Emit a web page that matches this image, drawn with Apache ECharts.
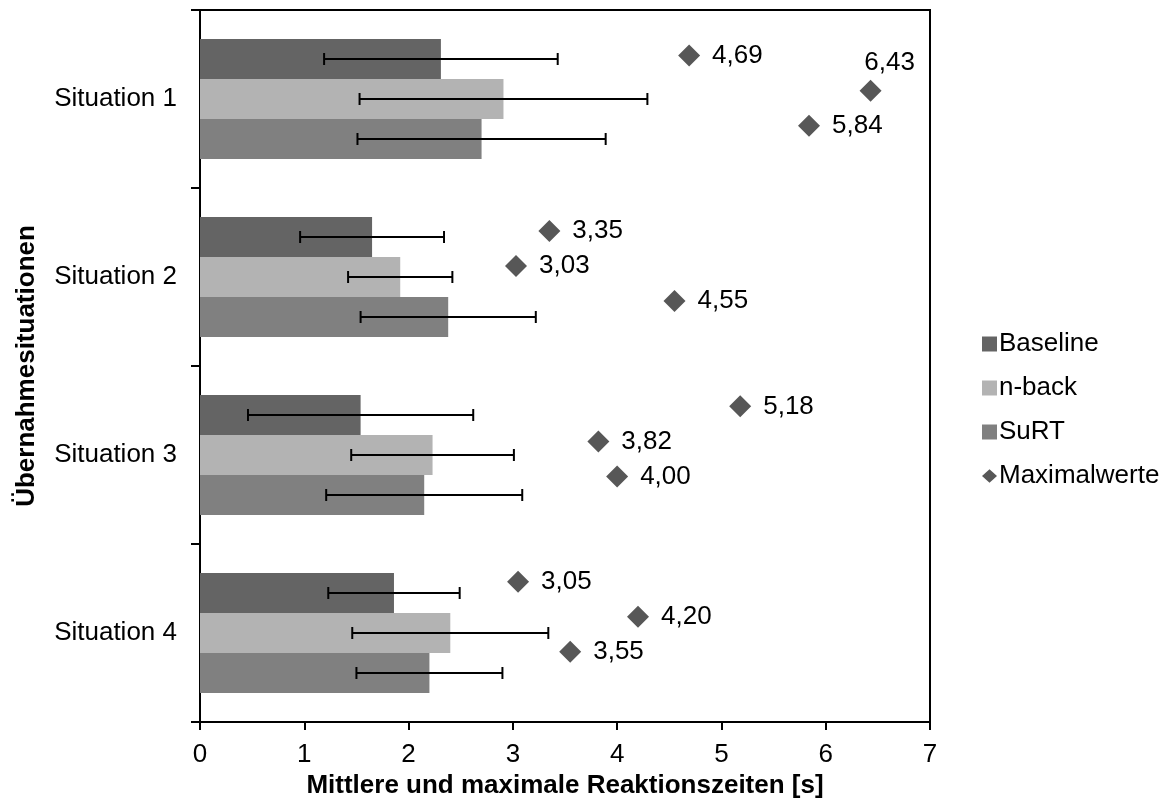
<!DOCTYPE html>
<html>
<head>
<meta charset="utf-8">
<script src="https://cdn.jsdelivr.net/npm/echarts@6/dist/echarts.min.js"></script>
<style>html,body{margin:0;padding:0;background:#fff}#c{width:1167px;height:807px}</style>
</head>
<body>
<div id="c"></div>
<script>
// ---- data ----
const categories = ['Situation 1', 'Situation 2', 'Situation 3', 'Situation 4'];
const seriesNames = ['Baseline', 'n-back', 'SuRT'];
const baselineMean = [2.31, 1.65, 1.54, 1.86];
const baselineSD   = [1.12, 0.69, 1.08, 0.63];
const nbackMean    = [2.91, 1.92, 2.23, 2.40];
const nbackSD      = [1.38, 0.50, 0.78, 0.94];
const surtMean     = [2.70, 2.38, 2.15, 2.20];
const surtSD       = [1.19, 0.84, 0.94, 0.70];
// Maximalwerte, per situation: Baseline, n-back, SuRT
const maxValues = [4.69, 6.43, 5.84, 3.35, 3.03, 4.55, 5.18, 3.82, 4.00, 3.05, 4.20, 3.55];
// secondary (hidden) axis values of the Maximalwerte points
const maxRows   = [1, 2, 3, 6, 7, 8, 11, 12, 13, 16, 17, 18];
const xTicks = [0, 1, 2, 3, 4, 5, 6, 7];
const xTitle = 'Mittlere und maximale Reaktionszeiten [s]';
const yTitle = 'Übernahmesituationen';

// ---- styling ----
const FONT = "'Liberation Sans', Arial, sans-serif";
const colors = ['#646464', '#b3b3b3', '#808080'];
const diamondColor = '#575757';
const CAT_GAP = 0.326;

const means = [baselineMean, nbackMean, surtMean];
const sds = [baselineSD, nbackSD, surtSD];

const barSeries = seriesNames.map((n, k) => ({
  name: n, type: 'bar', yAxisIndex: 0,
  data: means[k],
  barGap: '0%', barCategoryGap: (CAT_GAP * 100) + '%',
  itemStyle: { color: colors[k] },
  z: 2
}));

const errSeries = seriesNames.map((n, k) => ({
  name: n + '_err', type: 'custom', yAxisIndex: 0,
  data: means[k].map((m, i) => [m - sds[k][i], m + sds[k][i], i]),
  encode: { x: [0, 1], y: 2 },
  z: 5,
  silent: true,
  renderItem: function (params, api) {
    const cat = api.value(2);
    const band = api.size([0, 1])[1];
    const bw = band * (1 - CAT_GAP) / 3;
    const p1 = api.coord([api.value(0), cat]);
    const p2 = api.coord([api.value(1), cat]);
    const y = p1[1] + (k - 1) * bw;
    const cap = 6;
    const st = { stroke: '#000', lineWidth: 2 };
    return {
      type: 'group',
      children: [
        { type: 'line', shape: { x1: p1[0], y1: y, x2: p2[0], y2: y }, style: st },
        { type: 'line', shape: { x1: p1[0], y1: y - cap, x2: p1[0], y2: y + cap }, style: st },
        { type: 'line', shape: { x1: p2[0], y1: y - cap, x2: p2[0], y2: y + cap }, style: st }
      ]
    };
  }
}));

const scatterData = maxValues.map((v, i) => {
  const d = { value: [v, maxRows[i]] };
  if (v > 6.2) {
    d.label = { position: 'top', distance: 4, offset: [19, 0] };
  }
  return d;
});

const option = {
  animation: false,
  textStyle: { fontFamily: FONT },
  grid: {
    left: 200, right: 237, top: 10, bottom: 85,
    show: true, borderColor: '#000', borderWidth: 2
  },
  legend: {
    orient: 'vertical', left: 977, top: 326,
    itemWidth: 15, itemHeight: 15, itemGap: 18,
    textStyle: { fontFamily: FONT, fontSize: 26, color: '#000', padding: [0, 0, 0, -3] },
    data: [
      { name: 'Baseline', icon: 'rect' },
      { name: 'n-back', icon: 'rect' },
      { name: 'SuRT', icon: 'rect' },
      { name: 'Maximalwerte', icon: 'path://M9,0L18,8L9,16L0,8Z', itemStyle: { color: diamondColor, opacity: 1 } }
    ]
  },
  xAxis: {
    type: 'value', min: xTicks[0], max: xTicks[xTicks.length - 1], interval: 1,
    name: xTitle, nameLocation: 'middle', nameGap: 45,
    nameTextStyle: { fontFamily: FONT, fontSize: 26, fontWeight: 'bold', color: '#000' },
    axisLine: { show: true, onZero: false, lineStyle: { color: '#000', width: 2 } },
    axisTick: { show: true, length: 8, lineStyle: { color: '#000', width: 2 } },
    axisLabel: { fontFamily: FONT, fontSize: 26, color: '#000', margin: 20 },
    splitLine: { show: false }
  },
  yAxis: [
    {
      type: 'category', data: categories, inverse: true,
      name: yTitle, nameLocation: 'middle', nameGap: 160, nameRotate: 90,
      nameTextStyle: { fontFamily: FONT, fontSize: 26, fontWeight: 'bold', color: '#000' },
      axisLine: { show: true, onZero: false, lineStyle: { color: '#000', width: 2 } },
      axisTick: { show: true, length: 9, lineStyle: { color: '#000', width: 2 } },
      axisLabel: { fontFamily: FONT, fontSize: 26, color: '#000', margin: 23 }
    },
    {
      type: 'value', inverse: true, min: -0.3, max: 20, show: false,
      splitLine: { show: false }
    }
  ],
  series: [
    ...barSeries,
    ...errSeries,
    {
      name: 'Maximalwerte', type: 'scatter', yAxisIndex: 1,
      symbol: 'diamond', symbolSize: 22,
      itemStyle: { color: diamondColor, opacity: 1 },
      data: scatterData,
      z: 6,
      label: {
        show: true, position: 'right', distance: 12,
        fontFamily: FONT, fontSize: 26, color: '#000',
        formatter: p => p.value[0].toFixed(2).replace('.', ',')
      }
    }
  ]
};

const chart = echarts.init(document.getElementById('c'), null, { renderer: 'canvas' });
chart.setOption(option);
</script>
</body>
</html>
